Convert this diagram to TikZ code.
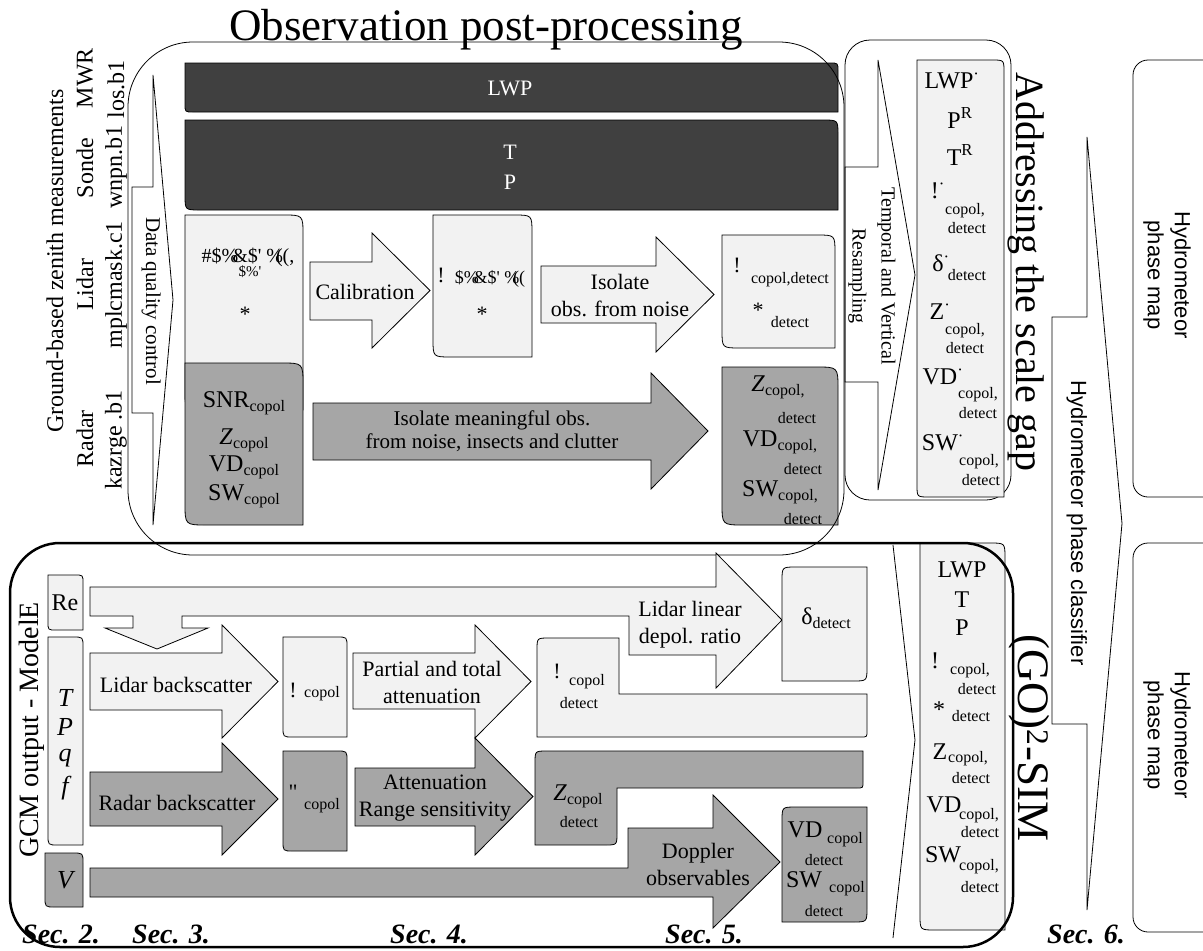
\documentclass[tikz,border=0pt]{standalone}
\usepackage{fontspec}
\setmainfont{Liberation Serif}
\newfontfamily\sansf{Liberation Sans}
\definecolor{lightc}{HTML}{F2F2F2}
\definecolor{grayc}{HTML}{A6A6A6}
\definecolor{darkc}{HTML}{404040}
\newcommand\fA{\fontsize{22}{27}\selectfont}
\newcommand\fB{\fontsize{24}{28}\selectfont}
\newcommand\fS{\fontsize{16}{18}\selectfont}
\newcommand\sbs[1]{\raisebox{-0.35ex}{\fS #1}}
\newcommand\dbox[6]{\path[#1] (#2,#3) -- ({#4-#6},#3) .. controls (#4,#3) .. (#4,{#3+#6}) -- (#4,#5) -- ({#2+#6},#5) .. controls (#2,#5) .. (#2,{#5-#6}) -- cycle;}
\newcommand\dboxb[6]{\path[#1] (#2,{#3+#6}) .. controls (#2,#3) .. ({#2+#6},#3) -- (#4,#3) -- (#4,{#5-#6}) .. controls (#4,#5) .. ({#4-#6},#5) -- (#2,#5) -- cycle;}
\newcommand\barrow[8]{\path[#1] (#2,#3) -- (#5,#3) -- (#5,#6) -- (#8,{(#6+#7)/2}) -- (#5,#7) -- (#5,#4) -- (#2,#4) -- cycle;}
\tikzset{
 lbox/.style={draw=black, fill=lightc, line width=0.8pt},
 gbox/.style={draw=black, fill=grayc, line width=0.8pt},
 kbox/.style={draw=black, fill=darkc, line width=0.8pt},
 wbox/.style={draw=black, fill=white, line width=0.8pt},
 obox/.style={draw=black, line width=0.8pt},
 txt/.style={inner sep=0pt, font=\fA, align=center},
 big/.style={inner sep=0pt, font=\fB},
 sm/.style={inner sep=0pt, font=\fS},
 lab/.style={inner sep=0pt, font=\fB, rotate=90},
 sec/.style={inner sep=0pt, anchor=base west, font=\fontsize{28}{32}\selectfont\bfseries\itshape},
}
\begin{document}
\begin{tikzpicture}[x=1pt,y=-1pt]
\useasboundingbox (0,0) rectangle (1203,951);
\fill[white] (0,0) rectangle (1203,951);

% ---------------- observation part ----------------
\dbox{kbox}{185}{63}{838}{112}{8}
\node[txt, text=white] (lwp) at (510,88) {LWP};
\dbox{kbox}{185}{120}{838}{210}{15}
\node[txt, text=white] (tt) at (510,152) {T};
\node[txt, text=white] (pp) at (510,182) {P};

% lidar input
\dbox{lbox}{185}{215}{303}{410}{20}
\node[inner sep=0pt, font=\fontsize{20}{22}\selectfont] (li1) at (248,257) {\#\$\%\kern-.3em\&\$\textquotesingle\ \%\kern-.35em((,};
\node[inner sep=0pt, font=\fontsize{15}{17}\selectfont] (li2) at (250,272) {\$\%\textquotesingle};
\node[txt] (li3) at (245,314) {*};

\barrow{lbox}{310}{262}{320}{372}{233}{348}{430}
\node[txt] (cal) at (365,292) {Calibration};

\dbox{lbox}{433}{215}{532}{357}{18}
\node[txt] (lm1) at (441,275) {!};
\node[inner sep=0pt, font=\fontsize{18}{20}\selectfont] (lm2) at (490,279) {\$\%\kern-.3em\&\$\textquotesingle\ \%\kern-.35em((};
\node[txt] (lm3) at (482,314) {*};

\barrow{lbox}{541}{266}{323}{656}{237}{352}{714}
\node[txt] (iso) at (620,296) {Isolate\\obs. from noise};

\dbox{lbox}{722}{235}{835}{348}{18}
\node[txt] (lo1) at (737,265) {!};
\node[sm] (lo2) at (790,280) {copol,detect};
\node[txt] (lo3) at (758,310) {*};
\node[sm] (lo4) at (790,322) {detect};

% radar
\dbox{gbox}{185}{363}{303}{525}{22}
\node[big] (ri1) at (244,403) {SNR\sbs{copol}};
\node[big] (ri2) at (244,440) {\textit{Z}\sbs{copol}};
\node[big] (ri3) at (244,467) {VD\sbs{copol}};
\node[big] (ri4) at (244,496) {SW\sbs{copol}};

\barrow{gbox}{313}{403}{460}{651}{373}{489}{708}
\node[inner sep=0pt, align=center, font=\fontsize{21}{23}\selectfont] (riso) at (492,431) {Isolate meaningful obs.\\from noise, insects and clutter};

\dbox{gbox}{722}{367}{838}{525}{22}
\node[big] (ro1) at (778,387) {\textit{Z}\sbs{copol,}};
\node[sm] (ro2) at (797,418) {detect};
\node[big] (ro3) at (780,442) {VD\sbs{copol,}};
\node[sm] (ro4) at (803,469) {detect};
\node[big] (ro5) at (780,492) {SW\sbs{copol,}};
\node[sm] (ro6) at (803,519) {detect};

\draw[obox, rounded corners=65] (128,42) rectangle (844,555);

\barrow{obox}{132}{187}{413}{153}{75}{525}{173}
\node[inner sep=0pt, rotate=-90, anchor=base, font=\fontsize{21}{25}\selectfont] (dqc) at (146,301) {Data quality control};

% temporal resampling
\draw[obox, rounded corners=25] (845,40) rectangle (1011,500);
\barrow{obox}{845}{167}{382}{878}{60}{490}{915}
\node[inner sep=0pt, rotate=-90, align=center, font=\fontsize{20}{29}\selectfont] (tvr) at (872,276) {Temporal and Vertical\\Resampling};

\dbox{lbox}{917}{60}{1004}{497}{12}
\node[big] (c1) at (952,81) {LWP\textsuperscript{·}};
\node[big] (c2) at (960,118) {P\textsuperscript{R}};
\node[big] (c3) at (960,155) {T\textsuperscript{R}};
\node[big] (c4) at (938,191) {!\textsuperscript{·}};
\node[sm] (c5) at (965,211) {copol,};
\node[sm] (c6) at (967,228) {detect};
\node[big] (c7) at (941,263) {δ\textsuperscript{·}};
\node[sm] (c8) at (967,275) {detect};
\node[big] (c9) at (940,312) {Z\textsuperscript{·}};
\node[sm] (c10) at (965,331) {copol,};
\node[sm] (c11) at (965,348) {detect};
\node[big] (c12) at (943,377) {VD\textsuperscript{·}};
\node[sm] (c13) at (978,395) {copol,};
\node[sm] (c14) at (978,413) {detect};
\node[big] (c15) at (943,443) {SW\textsuperscript{·}};
\node[sm] (c16) at (979,462) {copol,};
\node[sm] (c17) at (981,480) {detect};

\node[inner sep=0pt, rotate=-90, anchor=base, font=\fontsize{40}{46}\selectfont] (addr) at (1016,272) {Addressing the scale gap};

% ---------------- simulator part ----------------
\dbox{lbox}{48}{575}{83}{630}{8}
\node[big] (re) at (65,603) {Re};
\dbox{lbox}{48}{637}{83}{845}{10}
\node[inner sep=0pt, font=\fontsize{26}{30}\selectfont\itshape] (vT) at (65,698) {T};
\node[inner sep=0pt, font=\fontsize{26}{30}\selectfont\itshape] (vP) at (65,727) {P};
\node[inner sep=0pt, font=\fontsize{26}{30}\selectfont\itshape] (vq) at (65,758) {q};
\node[inner sep=0pt, font=\fontsize{26}{30}\selectfont\itshape] (vf) at (65,788) {f};
\dbox{gbox}{45}{853}{83}{907}{10}
\node[inner sep=0pt, font=\fontsize{26}{30}\selectfont\itshape] (vV) at (65,880) {V};

\path[lbox] (90,587) -- (716,587) -- (716,553) -- (782,620) -- (716,688) -- (716,655) -- (629,655) -- (629,616) -- (182,616) -- (182,628) -- (208,628) -- (157,649) -- (105,628) -- (133,628) -- (133,616) -- (90,616) -- cycle;
\node[txt] (dep) at (690,625) {Lidar linear\\depol. ratio};

\barrow{lbox}{90}{653}{710}{222}{625}{738}{278}
\node[txt] (lbs) at (176,685) {Lidar backscatter};

\dbox{lbox}{283}{637}{347}{737}{10}
\node[txt] (bc1) at (293,690) {!};
\node[sm] (bc2) at (322,694) {copol};

\barrow{lbox}{353}{653}{709}{475}{625}{738}{531}
\node[txt] (pta) at (432,682) {Partial and total\\attenuation};

\path[lbox] (537,650) .. controls (537,638) .. (549,638) -- (619,638) -- (619,694) -- (867,694) -- (867,731) .. controls (867,737) .. (861,737) -- (537,737) -- cycle;
\node[txt] (bd1) at (557,671) {!};
\node[sm] (bd2) at (587,682) {copol};
\node[sm] (bd3) at (579,703) {detect};

\dboxb{lbox}{782}{567}{867}{681}{14}
\node[big] (dd) at (826,618) {δ\sbs{detect}};

\barrow{gbox}{90}{772}{826}{222}{743}{855}{278}
\node[txt] (rbs) at (177,803) {Radar backscatter};

\dbox{gbox}{283}{751}{347}{851}{10}
\node[txt] (ec1) at (293,792) {\textquotedbl};
\node[sm] (ec2) at (322,806) {copol};

\barrow{gbox}{355}{768}{826}{475}{738}{855}{533}
\node[txt] (att) at (435,798) {Attenuation\\Range sensitivity};

\path[gbox] (535,763) .. controls (535,751) .. (547,751) -- (863,751) -- (863,782) .. controls (863,788) .. (857,788) -- (617,788) -- (617,833) .. controls (617,845) .. (605,845) -- (535,845) -- cycle;
\node[big] (zd1) at (578,796) {\textit{Z}\sbs{copol}};
\node[sm] (zd2) at (579,822) {detect};

\path[gbox] (90,868) -- (628,868) -- (628,828) -- (713,828) -- (713,795) -- (780,862) -- (713,928) -- (713,897) -- (90,897) -- cycle;
\node[txt] (dop) at (698,864) {Doppler\\observables};

\dboxb{gbox}{782}{807}{867}{922}{14}
\node[big] (vs1) at (805,830) {VD};
\node[sm] (vs2) at (845,840) {copol};
\node[sm] (vs3) at (824,860) {detect};
\node[big] (vs4) at (804,880) {SW};
\node[sm] (vs5) at (847,889) {copol};
\node[sm] (vs6) at (824,911) {detect};

\dbox{lbox}{920}{543}{1005}{930}{15}
\node[big] (d1) at (962,570) {LWP};
\node[big] (d2) at (962,600) {T};
\node[big] (d3) at (962,628) {P};
\node[big] (d4) at (935,661) {!};
\node[sm] (d5) at (970,671) {copol,};
\node[sm] (d6) at (977,689) {detect};
\node[big] (d7) at (939,710) {*};
\node[sm] (d8) at (971,716) {detect};
\node[big] (d9) at (940,752) {Z};
\node[sm] (d10) at (968,759) {copol,};
\node[sm] (d11) at (971,778) {detect};
\node[big] (d12) at (944,805) {VD};
\node[sm] (d13) at (979,816) {copol,};
\node[sm] (d14) at (980,832) {detect};
\node[big] (d15) at (943,855) {SW};
\node[sm] (d16) at (979,867) {copol,};
\node[sm] (d17) at (980,887) {detect};

\draw[line width=2.5pt, rounded corners=50] (10,543) rectangle (1013,947);
\draw[obox] (893,545) -- (915,740) -- (893,938);

\node[inner sep=0pt, rotate=-90, anchor=base, font=\fontsize{45}{50}\selectfont] (gosim) at (1018,738) {(GO)\textsuperscript{2}-SIM};

\node[inner sep=0pt, rotate=90, anchor=base, font=\fontsize{28}{32}\selectfont] (gcm) at (38,730) {GCM output - ModelE};

% ---------------- classifier ----------------
\barrow{obox}{1052}{317}{724}{1087}{137}{910}{1122}
\node[inner sep=0pt, rotate=-90, anchor=base, font=\sansf\fontsize{22}{27}\selectfont] (hpc) at (1071,523) {Hydrometeor phase classifier};

\draw[obox, rounded corners=15] (1133,60) rectangle (1240,497);
\draw[obox, rounded corners=15] (1133,543) rectangle (1240,932);
\node[inner sep=0pt, rotate=-90, align=center, font=\sansf\fontsize{22}{27}\selectfont] (map1) at (1167,275) {Hydrometeor\\phase map};
\node[inner sep=0pt, rotate=-90, align=center, font=\sansf\fontsize{22}{27}\selectfont] (map2) at (1167,735) {Hydrometeor\\phase map};

% ---------------- titles and labels ----------------
\node[inner sep=0pt, anchor=base, font=\fontsize{45}{50}\selectfont] (title) at (486,40) {Observation post-processing};

\node[lab] (gbz) at (55,261) {Ground-based zenith measurements};
\node[lab] (lr) at (85,439) {Radar};
\node[lab] (ll) at (85,285) {Lidar};
\node[lab] (ls) at (85,168) {Sonde};
\node[lab] (lw) at (85,78) {MWR};
\node[lab] (fr) at (116,440) {kazrge .b1};
\node[lab] (fl) at (116,285) {mplcmask.c1};
\node[lab] (fs) at (116,167) {wnpn.b1};
\node[lab] (fw) at (116,89) {los.b1};

\node[sec] (s2) at (22,943) {Sec. 2.};
\node[sec] (s3) at (132,943) {Sec. 3.};
\node[sec] (s4) at (390,943) {Sec. 4.};
\node[sec] (s5) at (665,943) {Sec. 5.};
\node[sec] (s6) at (1047,943) {Sec. 6.};
\end{tikzpicture}
\end{document}
